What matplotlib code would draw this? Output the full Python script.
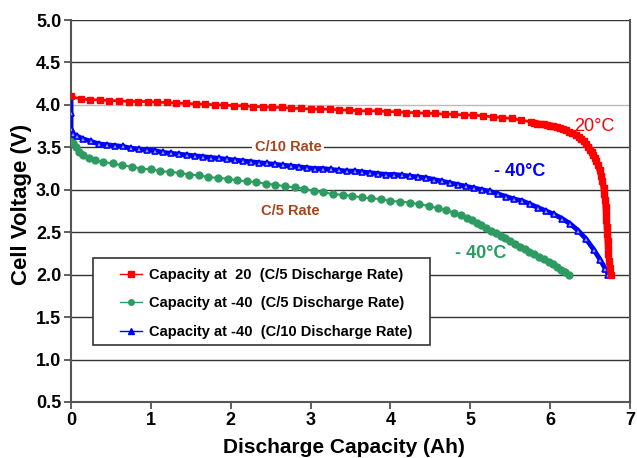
import matplotlib
matplotlib.use("Agg")
import matplotlib.pyplot as plt
from matplotlib.lines import Line2D
from matplotlib.patches import Rectangle

plt.rcParams['font.family'] = ['Liberation Sans', 'DejaVu Sans']
plt.rcParams['font.weight'] = 'bold'

# 20 C, C/5 discharge
red_x = [0.00, 0.12, 0.24, 0.36, 0.48, 0.60, 0.72, 0.84, 0.96, 1.08,
         1.20, 1.32, 1.44, 1.56, 1.68, 1.80, 1.92, 2.04, 2.16, 2.28,
         2.40, 2.52, 2.64, 2.76, 2.88, 3.00, 3.12, 3.24, 3.36, 3.48,
         3.60, 3.72, 3.84, 3.96, 4.08, 4.20, 4.32, 4.44, 4.56, 4.68,
         4.80, 4.92, 5.04, 5.16, 5.28, 5.40, 5.52, 5.64, 5.76, 5.80,
         5.84, 5.88, 5.92, 5.96, 6.00, 6.04, 6.08, 6.12, 6.16, 6.20,
         6.24, 6.28, 6.32, 6.36, 6.39, 6.42, 6.45, 6.48, 6.50, 6.52,
         6.54, 6.56, 6.58, 6.60, 6.62, 6.64, 6.655, 6.67, 6.68, 6.69,
         6.695, 6.70, 6.705, 6.71, 6.715, 6.72, 6.725, 6.73, 6.74, 6.75,
         6.76]
red_y = [4.10, 4.07, 4.06, 4.06, 4.05, 4.05, 4.04, 4.04, 4.04, 4.03,
         4.03, 4.02, 4.02, 4.01, 4.01, 4.00, 4.00, 3.99, 3.99, 3.98,
         3.98, 3.97, 3.97, 3.96, 3.96, 3.95, 3.95, 3.95, 3.94, 3.94,
         3.93, 3.93, 3.93, 3.92, 3.92, 3.91, 3.91, 3.90, 3.90, 3.89,
         3.89, 3.88, 3.88, 3.87, 3.86, 3.85, 3.84, 3.82, 3.80, 3.79,
         3.78, 3.775, 3.77, 3.76, 3.755, 3.75, 3.74, 3.73, 3.72, 3.70,
         3.68, 3.67, 3.65, 3.62, 3.60, 3.57, 3.54, 3.50, 3.47, 3.44,
         3.41, 3.38, 3.34, 3.29, 3.23, 3.16, 3.10, 3.02, 2.95, 2.88,
         2.80, 2.72, 2.64, 2.56, 2.48, 2.40, 2.32, 2.24, 2.16, 2.08,
         2.00]

# -40 C, C/5 discharge
green_x = [0.00, 0.03, 0.06, 0.10, 0.15, 0.22, 0.30, 0.40, 0.52, 0.64,
           0.76, 0.88, 1.00, 1.12, 1.24, 1.36, 1.48, 1.60, 1.72, 1.84,
           1.96, 2.08, 2.20, 2.32, 2.44, 2.56, 2.68, 2.80, 2.92, 3.04,
           3.16, 3.28, 3.40, 3.52, 3.64, 3.76, 3.88, 4.00, 4.12, 4.24,
           4.36, 4.48, 4.60, 4.70, 4.80, 4.88, 4.96, 5.02, 5.08, 5.14,
           5.20, 5.26, 5.32, 5.38, 5.44, 5.50, 5.56, 5.62, 5.68, 5.74,
           5.80, 5.86, 5.92, 5.98, 6.04, 6.09, 6.14, 6.19, 6.23]
green_y = [3.64, 3.55, 3.50, 3.45, 3.41, 3.38, 3.35, 3.33, 3.31, 3.29,
           3.27, 3.25, 3.24, 3.22, 3.21, 3.20, 3.18, 3.17, 3.15, 3.14,
           3.13, 3.11, 3.10, 3.09, 3.07, 3.06, 3.04, 3.03, 3.01, 2.99,
           2.97, 2.95, 2.94, 2.93, 2.91, 2.90, 2.89, 2.87, 2.86, 2.85,
           2.83, 2.81, 2.78, 2.76, 2.73, 2.70, 2.67, 2.64, 2.61, 2.58,
           2.55, 2.52, 2.49, 2.46, 2.43, 2.40, 2.36, 2.33, 2.30, 2.27,
           2.24, 2.21, 2.18, 2.15, 2.12, 2.09, 2.06, 2.03, 2.00]

# -40 C, C/10 discharge
blue_x = [0.00, 0.00, 0.00, 0.03, 0.08, 0.15, 0.25, 0.35, 0.45, 0.55,
          0.65, 0.75, 0.85, 0.95, 1.05, 1.15, 1.25, 1.35, 1.45, 1.55,
          1.65, 1.75, 1.85, 1.95, 2.05, 2.15, 2.25, 2.35, 2.45, 2.55,
          2.65, 2.75, 2.85, 2.95, 3.05, 3.15, 3.25, 3.35, 3.45, 3.55,
          3.65, 3.75, 3.85, 3.95, 4.05, 4.15, 4.25, 4.35, 4.45, 4.55,
          4.65, 4.75, 4.85, 4.95, 5.05, 5.15, 5.25, 5.35, 5.45, 5.55,
          5.65, 5.75, 5.85, 5.95, 6.05, 6.15, 6.25, 6.35, 6.45, 6.55,
          6.63, 6.69, 6.73]
blue_y = [4.10, 3.90, 3.72, 3.66, 3.63, 3.60, 3.57, 3.54, 3.53, 3.52,
          3.51, 3.49, 3.48, 3.47, 3.46, 3.44, 3.43, 3.42, 3.41, 3.40,
          3.39, 3.38, 3.37, 3.36, 3.35, 3.34, 3.33, 3.32, 3.31, 3.30,
          3.29, 3.28, 3.27, 3.26, 3.25, 3.25, 3.24, 3.23, 3.22, 3.22,
          3.21, 3.20, 3.19, 3.18, 3.18, 3.17, 3.16, 3.15, 3.14, 3.12,
          3.10, 3.08, 3.06, 3.04, 3.02, 3.00, 2.98, 2.95, 2.92, 2.89,
          2.87, 2.83, 2.79, 2.75, 2.71, 2.66, 2.60, 2.52, 2.42, 2.29,
          2.17, 2.07, 2.00]

labels = ['Capacity at  20  (C/5 Discharge Rate)',
          'Capacity at -40  (C/5 Discharge Rate)',
          'Capacity at -40  (C/10 Discharge Rate)']

RED = '#ff0000'
GREEN = '#2e9b62'
BLUE = '#0000ff'
BROWN = '#a5461c'

fig = plt.figure(figsize=(6.37, 4.58), dpi=100)
ax = fig.add_axes([0.1115, 0.1223, 0.8775, 0.834])

for yv in [1.0, 1.5, 2.0, 2.5, 3.0, 3.5, 4.5, 5.0]:
    ax.axhline(yv, color='#333333', lw=1, zorder=1)
ax.axhline(4.0, color='#bbbbbb', lw=1, zorder=1)

ax.plot(red_x, red_y, color=RED, lw=2, marker='s', ms=4.5,
        mec=RED, zorder=4)
# the knee of the 20 C curve is drawn as a solid heavy band
ax.plot(red_x[48:], red_y[48:], color=RED, lw=4.5, zorder=4,
        solid_capstyle='butt')
ax.plot(green_x, green_y, color=GREEN, lw=1.5, marker='o', ms=5,
        mec=GREEN, zorder=3)
ax.plot(blue_x, blue_y, color=BLUE, lw=3.5, marker='^', ms=5,
        mfc='#8da0ff', mec=BLUE, mew=1.2, zorder=3)

ax.set_xlim(0, 7)
ax.set_ylim(0.5, 5.0)
ax.set_xticks(range(0, 8))
ax.set_yticks([0.5, 1.0, 1.5, 2.0, 2.5, 3.0, 3.5, 4.0, 4.5, 5.0])
ax.set_yticklabels(['0.5', '1.0', '1.5', '2.0', '2.5', '3.0', '3.5', '4.0',
                    '4.5', '5.0'])
ax.tick_params(axis='both', labelsize=13, width=1.2, length=5,
               color='#444444', direction='out', pad=2)
for t in ax.get_xticklabels() + ax.get_yticklabels():
    t.set_fontweight('bold')
for s in ['left', 'right', 'bottom']:
    ax.spines[s].set_color('#555555')
    ax.spines[s].set_linewidth(1.5)
ax.spines['top'].set_visible(False)

ax.set_xlabel('Discharge Capacity (Ah)', fontsize=15, fontweight='bold')
ax.set_ylabel('Cell Voltage (V)', fontsize=16, fontweight='bold')
ax.xaxis.set_label_coords(0.489, -0.093)
ax.yaxis.set_label_coords(-0.07, 0.516)

ax.text(2.72, 3.5, 'C/10 Rate', color=BROWN, fontsize=10.5, ha='center',
        va='center', fontweight='bold', zorder=2,
        bbox=dict(facecolor='white', edgecolor='none', pad=2))
ax.text(2.75, 2.75, 'C/5 Rate', color=BROWN, fontsize=10.5, ha='center',
        va='center', fontweight='bold', zorder=2)
ax.text(6.55, 3.74, '20°C', color=RED, fontsize=13,
        ha='center', va='center', fontweight='normal')
ax.text(5.62, 3.21, '- 40°C', color=BLUE, fontsize=13,
        ha='center', va='center', fontweight='bold')
ax.text(5.13, 2.25, '- 40°C', color=GREEN, fontsize=13,
        ha='center', va='center', fontweight='bold')

# legend frame drawn separately so the inner margins can match the original
ax.add_patch(Rectangle((0.039, 0.149), 0.603, 0.228, transform=ax.transAxes,
                       facecolor='white', edgecolor='#333333', lw=1.2,
                       zorder=5))
handles = [Line2D([], [], color=RED, lw=1, marker='s', ms=4, mec=RED),
           Line2D([], [], color=GREEN, lw=1, marker='o', ms=4, mec=GREEN),
           Line2D([], [], color=BLUE, lw=1, marker='^', ms=4, mec=BLUE)]
leg = ax.legend(handles, labels, loc='upper left',
                bbox_to_anchor=(0.0877, 0.351), fontsize=10.5, frameon=False,
                handlelength=1.5, handletextpad=0.5, borderpad=0,
                labelspacing=1.0, borderaxespad=0)
leg.set_zorder(6)

fig.savefig('out.png', dpi=100)
